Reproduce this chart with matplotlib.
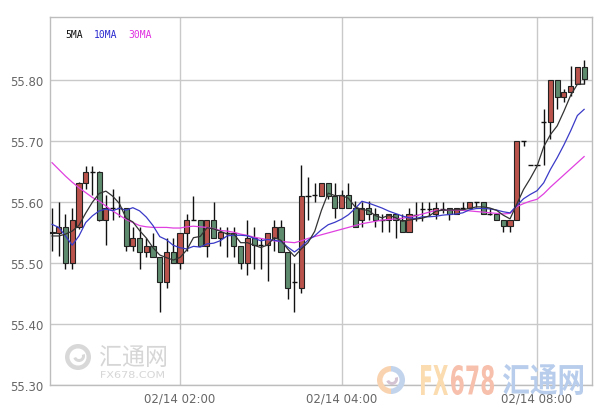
import matplotlib
matplotlib.use("Agg")
import matplotlib.pyplot as plt
import numpy as np
from matplotlib.patches import Wedge, PathPatch
from matplotlib.textpath import TextPath
from matplotlib.font_manager import FontProperties
from matplotlib.transforms import Affine2D, IdentityTransform

# ---------------- data ----------------
opens = [55.551, 55.549, 55.559, 55.499, 55.559, 55.630, 55.649, 55.649, 55.570, 55.589,
         55.589, 55.589, 55.528, 55.540, 55.518, 55.528, 55.509, 55.469, 55.518, 55.499,
         55.549, 55.570, 55.570, 55.528, 55.570, 55.540, 55.549, 55.549, 55.528, 55.499,
         55.540, 55.529, 55.529, 55.540, 55.559, 55.518, 55.469, 55.458, 55.610, 55.610,
         55.610, 55.630, 55.610, 55.589, 55.611, 55.589, 55.570, 55.589, 55.580, 55.570,
         55.570, 55.580, 55.570, 55.550, 55.578, 55.588, 55.588, 55.580, 55.588, 55.589,
         55.580, 55.589, 55.589, 55.600, 55.600, 55.580, 55.580, 55.570, 55.560, 55.570,
         55.700, 55.660, 55.660, 55.730, 55.730, 55.800, 55.771, 55.780, 55.793, 55.821]
highs = [55.590, 55.600, 55.580, 55.589, 55.632, 55.659, 55.659, 55.650, 55.611, 55.621,
         55.610, 55.589, 55.559, 55.559, 55.540, 55.549, 55.509, 55.540, 55.540, 55.549,
         55.580, 55.610, 55.570, 55.570, 55.599, 55.559, 55.559, 55.559, 55.528, 55.570,
         55.559, 55.540, 55.549, 55.570, 55.570, 55.518, 55.499, 55.660, 55.640, 55.630,
         55.630, 55.630, 55.630, 55.620, 55.630, 55.601, 55.599, 55.601, 55.589, 55.580,
         55.580, 55.580, 55.580, 55.589, 55.599, 55.599, 55.599, 55.599, 55.599, 55.589,
         55.589, 55.599, 55.600, 55.600, 55.600, 55.589, 55.580, 55.570, 55.570, 55.700,
         55.700, 55.660, 55.660, 55.752, 55.800, 55.800, 55.785, 55.823, 55.821, 55.832]
lows = [55.519, 55.511, 55.490, 55.490, 55.555, 55.621, 55.611, 55.569, 55.529, 55.570,
        55.575, 55.519, 55.519, 55.490, 55.510, 55.509, 55.419, 55.459, 55.499, 55.490,
        55.519, 55.570, 55.528, 55.510, 55.540, 55.528, 55.510, 55.510, 55.490, 55.480,
        55.490, 55.490, 55.470, 55.519, 55.518, 55.440, 55.419, 55.450, 55.570, 55.599,
        55.610, 55.605, 55.574, 55.589, 55.589, 55.559, 55.559, 55.570, 55.559, 55.550,
        55.550, 55.540, 55.550, 55.550, 55.569, 55.569, 55.577, 55.571, 55.582, 55.570,
        55.580, 55.589, 55.589, 55.591, 55.580, 55.578, 55.570, 55.550, 55.550, 55.570,
        55.692, 55.660, 55.660, 55.660, 55.702, 55.752, 55.763, 55.773, 55.793, 55.793]
closes = [55.549, 55.559, 55.499, 55.570, 55.630, 55.649, 55.649, 55.570, 55.589, 55.589,
          55.589, 55.528, 55.540, 55.518, 55.528, 55.509, 55.469, 55.518, 55.499, 55.549,
          55.570, 55.570, 55.528, 55.570, 55.540, 55.550, 55.548, 55.528, 55.499, 55.540,
          55.529, 55.529, 55.549, 55.559, 55.518, 55.458, 55.469, 55.610, 55.610, 55.611,
          55.630, 55.610, 55.589, 55.611, 55.589, 55.559, 55.589, 55.580, 55.570, 55.570,
          55.580, 55.570, 55.550, 55.580, 55.578, 55.588, 55.588, 55.589, 55.588, 55.580,
          55.589, 55.589, 55.600, 55.600, 55.580, 55.580, 55.570, 55.560, 55.570, 55.700,
          55.700, 55.660, 55.660, 55.730, 55.800, 55.771, 55.780, 55.790, 55.821, 55.801]

# moving-average values before enough candles are visible
ma5_head = [55.544, 55.544, 55.547, 55.552]
ma10_head = [55.563, 55.558, 55.544, 55.529, 55.544, 55.566, 55.577, 55.585, 55.588]
# 30MA as drawn in the reference
ma30 = [55.664, 55.653, 55.642, 55.632, 55.623, 55.615, 55.607, 55.601, 55.593, 55.585,
        55.578, 55.571, 55.566, 55.561, 55.559, 55.558, 55.558, 55.558, 55.557, 55.557,
        55.559, 55.560, 55.559, 55.558, 55.556, 55.553, 55.552, 55.550, 55.547, 55.545,
        55.542, 55.540, 55.538, 55.536, 55.535, 55.534, 55.533, 55.536, 55.540, 55.543,
        55.546, 55.549, 55.552, 55.555, 55.558, 55.561, 55.564, 55.566, 55.568, 55.570,
        55.571, 55.572, 55.573, 55.575, 55.577, 55.580, 55.583, 55.586, 55.586, 55.586,
        55.586, 55.586, 55.585, 55.584, 55.583, 55.582, 55.581, 55.580, 55.581, 55.592,
        55.597, 55.601, 55.604, 55.613, 55.624, 55.634, 55.644, 55.654, 55.664, 55.674]

tick_idx = [19, 43, 72]
tick_labels = ["02/14 02:00", "02/14 04:00", "02/14 08:00"]
y_ticks = [55.30, 55.40, 55.50, 55.60, 55.70, 55.80]
legend_labels = ["5MA", "10MA", "30MA"]


def moving_average(head, values, n):
    out = list(head)
    for i in range(len(head), len(values)):
        out.append(float(np.mean(values[i - n + 1:i + 1])))
    return out


ma5 = moving_average(ma5_head, closes, 5)
ma10 = moving_average(ma10_head, closes, 10)

# ---------------- figure ----------------
W, H = 601, 410
fig = plt.figure(figsize=(W / 100, H / 100), dpi=100)
fig.patch.set_facecolor("white")
ax = fig.add_axes([50 / W, 1 - 386 / H, 542 / W, 368 / H])
ax.set_facecolor("none")

x = np.arange(len(closes))
ax.set_xlim(-0.3, 80.17)
ax.set_ylim(55.30, 55.9025)

ax.set_yticks(y_ticks)
ax.set_yticklabels([f"{v:.2f}" for v in y_ticks])
ax.set_xticks(tick_idx)
ax.set_xticklabels(tick_labels)
ax.grid(True, color="#c9c9c9", lw=1.0)
ax.set_axisbelow(True)
ax.tick_params(length=0, labelsize=8.5, labelcolor="#666666", pad=5)
for sp in ax.spines.values():
    sp.set_color("#bdbdbd")
    sp.set_linewidth(1.0)

# ---------------- watermarks ----------------
def path_text(s, x0, y0, w, h, color, family, weight="bold", alpha=1.0):
    tp = TextPath((0, 0), s, size=10, prop=FontProperties(family=family, weight=weight))
    ext = tp.get_extents()
    tr = (Affine2D().translate(-ext.x0, -ext.y0)
          .scale(w / ext.width, h / ext.height)
          .translate(x0, H - y0 - h))
    p = PathPatch(tr.transform_path(tp), facecolor=color, edgecolor="none",
                  transform=IdentityTransform(), alpha=alpha, zorder=0)
    fig.patches.append(p)

# left grey logo
fig.patches.append(Wedge((78, H - 358), 13, 0, 360, width=4.5, facecolor="#d8d8d8",
                         edgecolor="none", transform=IdentityTransform(), zorder=0))
fig.patches.append(Wedge((79, H - 357), 6, 200, 20, width=3, facecolor="#d8d8d8",
                         edgecolor="none", transform=IdentityTransform(), zorder=0))
path_text("汇通网", 100, 346, 66, 22, "#d6d6d6", "Noto Sans CJK SC", weight="normal")
path_text("FX678.COM", 101, 372, 63, 7, "#d6d6d6", "DejaVu Sans", weight="normal")

# right coloured logo
fig.patches.append(Wedge((391, H - 381), 14, 90, 270, width=5.5, facecolor="#f9d3b0",
                         edgecolor="none", transform=IdentityTransform(), zorder=0))
fig.patches.append(Wedge((391, H - 381), 14, -90, 90, width=5.5, facecolor="#c2d3ec",
                         edgecolor="none", transform=IdentityTransform(), zorder=0))
fig.patches.append(Wedge((392, H - 380), 6, 200, 20, width=3, facecolor="#d4c3d2",
                         edgecolor="none", transform=IdentityTransform(), zorder=0))
path_text("FX", 421, 366, 27, 30, "#fadcb0", "DejaVu Sans")
path_text("678", 451, 366, 43, 30, "#f7c0ac", "DejaVu Sans")
path_text("汇通网", 503, 365, 80, 31, "#b8cdec", "Noto Sans CJK SC")

# ---------------- candles ----------------
red = "#b9534b"
green = "#5e8b6d"
bw = 0.76
ax.vlines(x, lows, highs, color="#111111", lw=1.0, zorder=2)
for i in range(len(closes)):
    o, c = opens[i], closes[i]
    if abs(c - o) < 0.0015:
        ax.hlines((o + c) / 2, i - bw / 2, i + bw / 2, color="#111111", lw=1.0, zorder=3)
    else:
        fc = red if c > o else green
        ax.bar(i, abs(c - o), bottom=min(o, c), width=bw, color=fc,
               edgecolor="#222222", lw=0.8, zorder=3)

# ---------------- moving averages ----------------
ax.plot(x, ma30, color="#e040e0", lw=0.9, zorder=4)
ax.plot(x, ma10, color="#3a3ac8", lw=0.9, zorder=4)
ax.plot(x, ma5, color="#333333", lw=0.9, zorder=4)

# legend texts
leg_colors = ["#111111", "#2a2ad0", "#e030e0"]
leg_x = [65, 94, 128]
for lab, col, lx in zip(legend_labels, leg_colors, leg_x):
    fig.text(lx / W, 1 - 35 / H, lab, color=col, fontsize=7,
             family="DejaVu Sans Mono", va="center", ha="left")

fig.savefig("out.png", dpi=100)
